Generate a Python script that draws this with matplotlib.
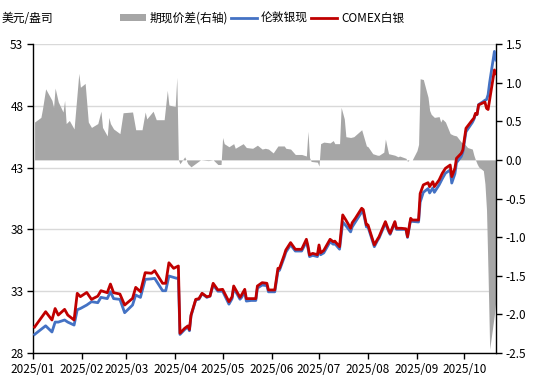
import matplotlib
matplotlib.use("Agg")
import matplotlib.pyplot as plt
import matplotlib.dates as mdates
from matplotlib.patches import Patch
from matplotlib.lines import Line2D
import pandas as pd

plt.rcParams['font.family'] = ['Noto Sans CJK SC', 'DejaVu Sans']
plt.rcParams['axes.unicode_minus'] = False

# ---------------- data ----------------
price_dates = [
    "2025-01-02", "2025-01-09", "2025-01-13", "2025-01-15", "2025-01-17", "2025-01-21", "2025-01-23",
    "2025-01-27", "2025-01-29", "2025-01-31", "2025-02-04", "2025-02-07", "2025-02-11", "2025-02-13",
    "2025-02-17", "2025-02-19", "2025-02-21", "2025-02-25", "2025-02-28", "2025-03-05", "2025-03-07",
    "2025-03-10", "2025-03-13", "2025-03-17", "2025-03-19", "2025-03-24", "2025-03-26", "2025-03-28",
    "2025-03-31", "2025-04-02", "2025-04-03", "2025-04-04", "2025-04-07", "2025-04-09", "2025-04-10",
    "2025-04-11", "2025-04-14", "2025-04-16", "2025-04-18", "2025-04-21", "2025-04-23", "2025-04-25",
    "2025-04-28", "2025-05-01", "2025-05-05", "2025-05-07", "2025-05-08", "2025-05-12", "2025-05-13",
    "2025-05-15", "2025-05-16", "2025-05-19", "2025-05-22", "2025-05-23", "2025-05-26", "2025-05-29",
    "2025-05-30", "2025-06-03", "2025-06-05", "2025-06-06", "2025-06-09", "2025-06-10", "2025-06-13",
    "2025-06-16", "2025-06-19", "2025-06-20", "2025-06-23", "2025-06-24", "2025-06-25", "2025-06-27",
    "2025-06-30", "2025-07-01", "2025-07-02", "2025-07-04", "2025-07-08", "2025-07-10", "2025-07-11",
    "2025-07-14", "2025-07-16", "2025-07-18", "2025-07-21", "2025-07-22", "2025-07-24", "2025-07-28",
    "2025-07-29", "2025-07-31", "2025-08-01", "2025-08-05", "2025-08-07", "2025-08-08", "2025-08-12",
    "2025-08-14", "2025-08-15", "2025-08-18", "2025-08-19", "2025-08-22", "2025-08-25", "2025-08-26",
    "2025-08-28", "2025-08-29", "2025-09-02", "2025-09-03", "2025-09-05", "2025-09-08", "2025-09-09",
    "2025-09-11", "2025-09-12", "2025-09-15", "2025-09-17", "2025-09-19", "2025-09-22", "2025-09-23",
    "2025-09-25", "2025-09-26", "2025-09-29", "2025-09-30", "2025-10-02", "2025-10-06", "2025-10-07",
    "2025-10-08", "2025-10-09", "2025-10-10", "2025-10-13", "2025-10-14", "2025-10-15", "2025-10-16",
    "2025-10-17", "2025-10-20", "2025-10-21",
]

comex_silver = [
    30.1, 31.34, 30.67, 31.6, 31.07, 31.53, 31.07,
    30.67, 32.83, 32.56, 32.9, 32.34, 32.6, 33.04,
    32.88, 33.58, 32.88, 32.77, 31.88, 32.42, 33.31,
    32.96, 34.5, 34.45, 34.66, 33.64, 33.64, 35.3,
    34.85, 34.98, 35.04, 29.6, 30.0, 30.19, 29.9,
    31.07, 32.34, 32.4, 32.83, 32.55, 32.61, 33.64,
    33.1, 33.15, 32.15, 32.55, 33.42, 32.5, 32.7,
    33.15, 32.4, 32.4, 32.4, 33.42, 33.69, 33.64,
    33.1, 33.1, 34.85, 34.85, 35.93, 36.33, 36.93,
    36.39, 36.39, 36.39, 37.2, 36.66, 35.93, 36.06,
    35.95, 36.74, 36.1, 36.3, 37.2, 37.0, 37.05,
    36.6, 39.17, 38.76, 38.09, 38.54, 38.9, 39.71,
    39.6, 38.36, 38.36, 36.74, 37.2, 37.41, 38.63,
    37.95, 37.68, 38.63, 38.09, 38.09, 38.05, 37.41,
    38.9, 38.76, 38.76, 40.9, 41.6, 41.78, 41.46,
    41.86, 41.46, 42.0, 42.54, 42.94, 43.21, 42.27,
    42.94, 43.75, 44.15, 44.42, 46.18, 46.85, 47.0,
    47.39, 47.3, 48.07, 48.25, 48.3, 47.8, 47.7,
    48.5, 50.9, 50.6,
]

london_silver = [
    29.5, 30.2, 29.7, 30.5, 30.5, 30.67, 30.5,
    30.26, 31.5, 31.6, 31.88, 32.15, 32.07, 32.5,
    32.4, 32.96, 32.4, 32.34, 31.26, 31.88, 32.69,
    32.5, 33.96, 34.0, 34.04, 33.04, 33.04, 34.23,
    34.12, 34.04, 34.1, 29.5, 29.9, 30.1, 29.8,
    31.0, 32.3, 32.35, 32.8, 32.5, 32.6, 33.5,
    33.0, 33.0, 31.95, 32.4, 33.25, 32.35, 32.5,
    32.95, 32.2, 32.25, 32.25, 33.25, 33.5, 33.45,
    32.95, 32.95, 34.6, 34.7, 35.75, 36.15, 36.75,
    36.25, 36.25, 36.25, 37.0, 36.5, 35.8, 35.9,
    35.8, 36.5, 35.95, 36.1, 37.0, 36.8, 36.85,
    36.4, 38.6, 38.3, 37.8, 38.2, 38.6, 39.4,
    39.4, 38.2, 38.2, 36.6, 37.1, 37.3, 38.5,
    37.85, 37.6, 38.55, 38.0, 38.0, 38.0, 37.35,
    38.8, 38.65, 38.6, 40.2, 41.0, 41.3, 40.95,
    41.35, 41.0, 41.6, 42.1, 42.55, 42.8, 41.75,
    42.5, 43.4, 43.9, 44.25, 45.9, 46.65, 46.9,
    47.3, 47.3, 48.1, 48.35, 48.45, 48.5, 48.9,
    49.9, 52.4, 51.7,
]

spread_dates = [
    "2025-01-02", "2025-01-06", "2025-01-07", "2025-01-09", "2025-01-13", "2025-01-14", "2025-01-15",
    "2025-01-17", "2025-01-20", "2025-01-21", "2025-01-22", "2025-01-24", "2025-01-27", "2025-01-30",
    "2025-01-31", "2025-02-03", "2025-02-05", "2025-02-07", "2025-02-11", "2025-02-13", "2025-02-14",
    "2025-02-17", "2025-02-18", "2025-02-19", "2025-02-21", "2025-02-25", "2025-02-27", "2025-03-05",
    "2025-03-07", "2025-03-11", "2025-03-13", "2025-03-14", "2025-03-18", "2025-03-20", "2025-03-25",
    "2025-03-27", "2025-03-28", "2025-04-01", "2025-04-02", "2025-04-03", "2025-04-04", "2025-04-07",
    "2025-04-09", "2025-04-11", "2025-04-15", "2025-04-17", "2025-04-22", "2025-04-25", "2025-04-28",
    "2025-04-30", "2025-05-01", "2025-05-02", "2025-05-05", "2025-05-08", "2025-05-09", "2025-05-14",
    "2025-05-16", "2025-05-20", "2025-05-23", "2025-05-26", "2025-05-28", "2025-05-30", "2025-06-02",
    "2025-06-05", "2025-06-09", "2025-06-10", "2025-06-13", "2025-06-16", "2025-06-20", "2025-06-23",
    "2025-06-24", "2025-06-25", "2025-06-26", "2025-06-30", "2025-07-01", "2025-07-02", "2025-07-04",
    "2025-07-08", "2025-07-10", "2025-07-11", "2025-07-14", "2025-07-15", "2025-07-17", "2025-07-18",
    "2025-07-21", "2025-07-23", "2025-07-28", "2025-07-31", "2025-08-01", "2025-08-04", "2025-08-07",
    "2025-08-08", "2025-08-11", "2025-08-12", "2025-08-14", "2025-08-18", "2025-08-20", "2025-08-21",
    "2025-08-25", "2025-08-26", "2025-08-27", "2025-08-29", "2025-09-01", "2025-09-02", "2025-09-03",
    "2025-09-05", "2025-09-08", "2025-09-09", "2025-09-10", "2025-09-12", "2025-09-15", "2025-09-16",
    "2025-09-17", "2025-09-19", "2025-09-22", "2025-09-24", "2025-09-26", "2025-09-29", "2025-10-01",
    "2025-10-03", "2025-10-06", "2025-10-07", "2025-10-08", "2025-10-09", "2025-10-10", "2025-10-13",
    "2025-10-14", "2025-10-15", "2025-10-16", "2025-10-17", "2025-10-20", "2025-10-21",
]

spread = [
    0.49, 0.55, 0.66, 0.92, 0.77, 0.68, 0.93,
    0.75, 0.62, 0.77, 0.47, 0.51, 0.40, 1.12,
    0.94, 0.99, 0.49, 0.42, 0.47, 0.63, 0.42,
    0.31, 0.55, 0.47, 0.40, 0.34, 0.61, 0.62,
    0.39, 0.39, 0.62, 0.53, 0.63, 0.52, 0.52,
    0.90, 0.71, 0.69, 1.07, 0.0, -0.05, 0.04,
    -0.05, -0.09, -0.03, 0.0, -0.01, 0.0, -0.06,
    -0.06, 0.29, 0.21, 0.17, 0.21, 0.15, 0.21,
    0.16, 0.15, 0.19, 0.14, 0.15, 0.14, 0.09,
    0.18, 0.18, 0.15, 0.14, 0.07, 0.07, 0.05,
    0.37, 0.03, -0.02, -0.03, -0.08, 0.21, 0.23,
    0.22, 0.25, 0.21, 0.21, 0.68, 0.53, 0.30,
    0.29, 0.30, 0.39, 0.18, 0.17, 0.08, 0.06,
    0.06, 0.10, 0.27, 0.08, 0.06, 0.04, 0.05,
    0.02, -0.02, 0.0, 0.0, 0.12, 0.20, 1.05,
    1.04, 0.81, 0.64, 0.59, 0.55, 0.56, 0.49,
    0.53, 0.49, 0.34, 0.32, 0.31, 0.23, 0.21,
    0.16, 0.14, 0.06, 0.0, -0.05, -0.09, -0.14,
    -0.31, -0.65, -1.5, -2.45, -2.0, -1.8,
]

left_ticks = [28, 33, 38, 43, 48, 53]
right_ticks = [-2.5, -2.0, -1.5, -1.0, -0.5, 0.0, 0.5, 1.0, 1.5]
month_ticks = ["2025-01-01", "2025-02-01", "2025-03-01", "2025-04-01", "2025-05-01",
               "2025-06-01", "2025-07-01", "2025-08-01", "2025-09-01", "2025-10-01"]

label_spread = "期现价差(右轴)"
label_london = "伦敦银现"
label_comex = "COMEX白银"
unit_label = "美元/盎司"

# ---------------- styling ----------------
GRAY = "#A6A6A6"
BLUE = "#4472C4"
RED = "#C00000"
FS = 8.5
LW = 2.0

pd_price = pd.to_datetime(price_dates)
pd_spread = pd.to_datetime(spread_dates)
pd_months = pd.to_datetime(month_ticks)

fig = plt.figure(figsize=(5.37, 3.84), dpi=100)
rect = [33 / 537, 1 - 353 / 384, (496 - 33) / 537, (353 - 44) / 384]

ax = fig.add_axes(rect)            # grid + left ticks
ax_fill = ax.twinx()               # spread area, right axis
ax_line = ax.twinx()               # price lines, left scale

ax.set_zorder(0)
ax_fill.set_zorder(1)
ax_line.set_zorder(2)
ax_fill.patch.set_visible(False)
ax_line.patch.set_visible(False)

xmin = pd.Timestamp("2025-01-01")
xmax = pd_price[-1]
for a in (ax, ax_fill, ax_line):
    a.set_xlim(xmin, xmax)

# grid axis
ax.set_ylim(left_ticks[0], left_ticks[-1])
ax.set_yticks(left_ticks)
ax.set_yticklabels([str(t) for t in left_ticks], fontsize=FS)
ax.yaxis.grid(True, color="#D9D9D9", linewidth=1.0)
ax.set_axisbelow(True)

# spread area
ax_fill.fill_between(pd_spread, 0, spread, color=GRAY, linewidth=0)
ax_fill.set_ylim(right_ticks[0], right_ticks[-1])
ax_fill.set_yticks(right_ticks)
ax_fill.set_yticklabels([f"{t:.1f}" for t in right_ticks], fontsize=FS)

# price lines
ax_line.plot(pd_price, london_silver, color=BLUE, linewidth=LW, solid_joinstyle="round")
ax_line.plot(pd_price, comex_silver, color=RED, linewidth=LW, solid_joinstyle="round")
ax_line.set_ylim(left_ticks[0], left_ticks[-1])
ax_line.set_yticks([])
ax_line.tick_params(axis="y", which="both", right=False, labelright=False)

# x axis
ax.set_xticks(pd_months)
ax.xaxis.set_major_formatter(mdates.DateFormatter("%Y/%m"))
for lab in ax.get_xticklabels():
    lab.set_fontsize(FS)
for a in (ax_fill, ax_line):
    a.tick_params(axis="x", which="both", bottom=False, labelbottom=False)

for a in (ax, ax_fill, ax_line):
    a.spines["top"].set_visible(False)
for a in (ax_fill, ax_line):
    a.spines["left"].set_visible(False)
    a.spines["bottom"].set_visible(False)
ax_line.spines["right"].set_visible(False)
ax.spines["right"].set_visible(False)
for s in (ax.spines["left"], ax.spines["bottom"], ax_fill.spines["right"]):
    s.set_color("black")
    s.set_linewidth(1.0)

ax.tick_params(axis="both", direction="out", length=4, width=1, color="black", pad=3)
ax_fill.tick_params(axis="y", direction="out", length=4, width=1, color="black", pad=3)

# unit label
fig.text(2 / 537, 1 - 18 / 384, unit_label, fontsize=FS, ha="left", va="center")

# legend
handles = [
    Patch(facecolor=GRAY, edgecolor="none", label=label_spread),
    Line2D([0], [0], color=BLUE, linewidth=LW, label=label_london),
    Line2D([0], [0], color=RED, linewidth=LW, label=label_comex),
]
fig.legend(handles=handles, loc="center", bbox_to_anchor=(262 / 537, 1 - 18 / 384),
           ncol=3, frameon=False, fontsize=FS, handlelength=2.2, handleheight=0.6,
           handletextpad=0.3, columnspacing=0.3, borderaxespad=0, borderpad=0)

fig.savefig("out.png", dpi=100)
